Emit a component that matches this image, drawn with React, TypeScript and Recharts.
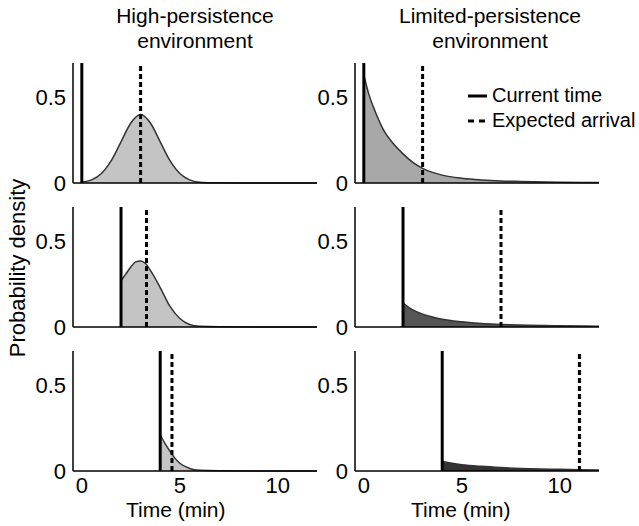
import { ComposedChart, Area, XAxis, YAxis, ReferenceLine } from 'recharts';

// Time grid (min) and density
const hpTime1 = [0, 0.5, 1, 1.5, 2, 2.5, 3, 3.5, 4, 4.5, 5, 5.5, 6, 7, 8, 10, 12];
const hpDens1 = [0.005, 0.018, 0.055, 0.13, 0.24, 0.35, 0.4, 0.35, 0.24, 0.13, 0.055, 0.018, 0.005, 0.001, 0, 0, 0];

const hpTime2 = [2, 2.25, 2.5, 2.75, 3, 3.25, 3.5, 4, 4.5, 5, 5.5, 6, 7, 12];
const hpDens2 = [0.27, 0.31, 0.35, 0.38, 0.385, 0.37, 0.33, 0.23, 0.12, 0.05, 0.015, 0.004, 0.001, 0];

const hpTime3 = [4, 4.25, 4.5, 4.75, 5, 5.5, 6, 7, 12];
const hpDens3 = [0.21, 0.16, 0.115, 0.075, 0.045, 0.015, 0.004, 0.001, 0];

const lpTime1 = [0, 0.25, 0.5, 0.75, 1, 1.5, 2, 2.5, 3, 3.5, 4, 5, 6, 7, 8, 10, 12];
const lpDens1 = [0.63, 0.52, 0.44, 0.37, 0.31, 0.23, 0.17, 0.12, 0.085, 0.062, 0.046, 0.028, 0.018, 0.012, 0.009, 0.005, 0.003];

const lpTime2 = [2, 2.5, 3, 3.5, 4, 5, 6, 7, 8, 10, 12];
const lpDens2 = [0.14, 0.1, 0.075, 0.058, 0.045, 0.03, 0.02, 0.015, 0.011, 0.007, 0.005];

const lpTime3 = [4, 4.5, 5, 6, 7, 8, 9, 10, 11, 12];
const lpDens3 = [0.055, 0.045, 0.037, 0.027, 0.02, 0.015, 0.012, 0.01, 0.008, 0.006];

// current time / expected arrival per row
const currentTimes = [0, 2, 4];
const hpExpected = [3, 3.3, 4.6];
const lpExpected = [3, 7, 11];

const xTicks = [0, 5, 10];
const yTicks = [0, 0.5];

const font = '"Liberation Sans", Arial, Helvetica, sans-serif';

const toRows = (t: number[], d: number[]) => t.map((v, i) => ({ t: v, d: d[i] }));

interface PanelProps {
    chartLeft: number;
    plotLeft: number;
    plotTop: number;
    data: { t: number; d: number }[];
    current: number;
    expected: number;
    showX: boolean;
    fill: string;
}

function Panel({ chartLeft, plotLeft, plotTop, data, current, expected, showX, fill }: PanelProps) {
    const plotW = 244;
    const plotH = 120;
    // keep room under the axis so the "0" tick label isn't clipped
    const xH = showX ? 26 : 14;
    const top = 4;
    const yW = plotLeft - chartLeft;
    return (
        <div style={{ position: 'absolute', left: chartLeft, top: plotTop - top }}>
            <ComposedChart
                width={yW + plotW + 4}
                height={top + plotH + xH}
                data={data}
                margin={{ top: top, right: 4, left: 0, bottom: 0 }}
            >
                <XAxis
                    dataKey="t"
                    type="number"
                    domain={[-0.45, 12]}
                    ticks={xTicks}
                    allowDataOverflow
                    height={xH}
                    tick={showX ? { fontSize: 22, fill: '#000', fontFamily: font } : false}
                    tickLine={false}
                    tickMargin={0}
                    axisLine={{ stroke: '#000', strokeWidth: 1.5 }}
                />
                <YAxis
                    type="number"
                    domain={[0, 0.7]}
                    ticks={yTicks}
                    width={yW}
                    tickFormatter={(v: number) => (v === 0 ? '0' : String(v))}
                    tick={{ fontSize: 22, fill: '#000', fontFamily: font }}
                    tickLine={false}
                    tickMargin={1}
                    interval={0}
                    axisLine={{ stroke: '#000', strokeWidth: 1.5 }}
                />
                <Area
                    type="monotone"
                    dataKey="d"
                    stroke="#333"
                    strokeWidth={1.5}
                    fill={fill}
                    fillOpacity={1}
                    isAnimationActive={false}
                />
                <ReferenceLine x={current} stroke="#000" strokeWidth={3} />
                <ReferenceLine x={expected} stroke="#000" strokeWidth={3} strokeDasharray="5 3" />
            </ComposedChart>
        </div>
    );
}

const rowTops = [63, 207, 351];

export default function App() {
    const hp = [toRows(hpTime1, hpDens1), toRows(hpTime2, hpDens2), toRows(hpTime3, hpDens3)];
    const lp = [toRows(lpTime1, lpDens1), toRows(lpTime2, lpDens2), toRows(lpTime3, lpDens3)];
    const lpFills = ['#a8a8a8', '#555', '#333'];

    const text = { position: 'absolute' as const, fontFamily: font, color: '#000', whiteSpace: 'nowrap' as const };

    return (
        <div style={{ position: 'absolute', left: 0, top: 0, width: 639, height: 526, background: '#fff' }}>
            {/* column titles */}
            <div style={{ ...text, left: 95, width: 200, top: 3, fontSize: 21, lineHeight: '25px', textAlign: 'center' }}>
                High-persistence<br />environment
            </div>
            <div style={{ ...text, left: 390, width: 200, top: 3, fontSize: 21, lineHeight: '25px', textAlign: 'center' }}>
                Limited-persistence<br />environment
            </div>

            {rowTops.map((y, i) => (
                <Panel key={`hp-${i}`} chartLeft={0} plotLeft={73} plotTop={y} data={hp[i]}
                    current={currentTimes[i]} expected={hpExpected[i]} showX={i === 2} fill="#c4c4c4" />
            ))}
            {rowTops.map((y, i) => (
                <Panel key={`lp-${i}`} chartLeft={303} plotLeft={355} plotTop={y} data={lp[i]}
                    current={currentTimes[i]} expected={lpExpected[i]} showX={i === 2} fill={lpFills[i]} />
            ))}

            {/* legend */}
            <div style={{ ...text, left: 466, top: 83, fontSize: 20, lineHeight: '25px' }}>
                <div style={{ display: 'flex', alignItems: 'center' }}>
                    <svg width={22} height={10}><line x1={2} y1={5} x2={21} y2={5} stroke="#000" strokeWidth={3} /></svg>
                    <span style={{ marginLeft: 4 }}>Current time</span>
                </div>
                <div style={{ display: 'flex', alignItems: 'center' }}>
                    <svg width={22} height={10}><line x1={2} y1={5} x2={21} y2={5} stroke="#000" strokeWidth={3} strokeDasharray="6 5" /></svg>
                    <span style={{ marginLeft: 4 }}>Expected arrival</span>
                </div>
            </div>

            {/* axis titles */}
            <div style={{ ...text, left: 126, top: 498, fontSize: 21, lineHeight: '24px' }}>Time (min)</div>
            <div style={{ ...text, left: 411, top: 498, fontSize: 21, lineHeight: '24px' }}>Time (min)</div>
            <div style={{ ...text, left: 18, top: 268, fontSize: 22, transform: 'translate(-50%, -50%) rotate(-90deg)' }}>
                Probability density
            </div>
        </div>
    );
}
